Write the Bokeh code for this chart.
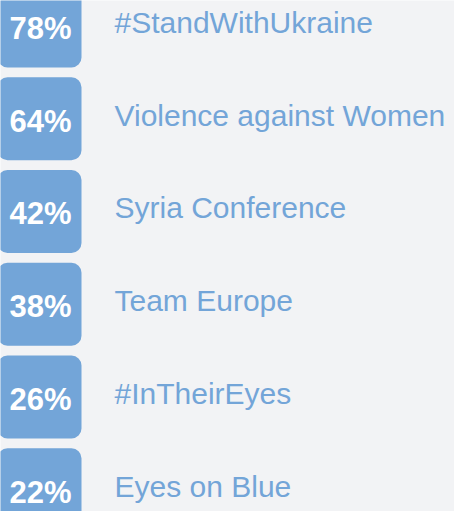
from bokeh.plotting import figure
from bokeh.models import Range1d, ColumnDataSource
from bokeh.core.properties import value
from bokeh.embed import file_html
from bokeh.resources import INLINE

labels = ["#StandWithUkraine", "Violence against Women", "Syria Conference",
          "Team Europe", "#InTheirEyes", "Eyes on Blue"]
shares = [78, 64, 42, 38, 26, 22]

BG = "#f2f3f5"
BLUE = "#73a5d8"
FONT = value("Liberation Sans")

rows = list(range(len(labels)))
half = 0.4474
src = ColumnDataSource(dict(
    row=rows,
    top=[r - half for r in rows],
    bottom=[r + half for r in rows],
    pct=[f"{v}%" for v in shares],
    label=labels,
))

p = figure(width=454, height=511, output_backend="svg", toolbar_location=None,
           x_range=Range1d(0, 454), y_range=Range1d(5.2345, -0.2749),
           min_border=0, background_fill_color=BG, border_fill_color=BG)
p.axis.visible = False
p.grid.visible = False
p.outline_line_color = None

p.quad(left=-3, right=81, top="top", bottom="bottom", source=src,
       fill_color=BLUE, line_color=None, border_radius=10)

p.text(x=40, y="row", text="pct", source=src, text_font=FONT,
       text_font_style="bold", text_font_size="31px", text_color="white",
       text_align="center", text_baseline="alphabetic", y_offset=2.5)

p.text(x=114, y="row", text="label", source=src, text_font=FONT,
       text_font_size="30px", text_color=BLUE,
       text_align="left", text_baseline="alphabetic", y_offset=-3.5)

open("out.html", "w").write(file_html(p, INLINE))
